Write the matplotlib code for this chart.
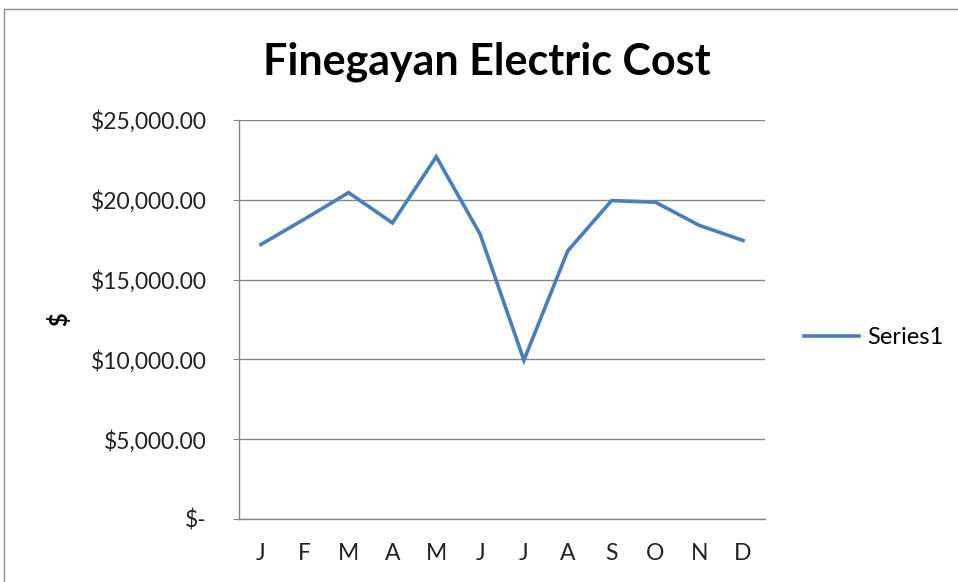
import matplotlib
matplotlib.use("Agg")
from matplotlib import pyplot as plt
from matplotlib.patches import Rectangle

months = ['J', 'F', 'M', 'A', 'M', 'J', 'J', 'A', 'S', 'O', 'N', 'D']
cost = [17200, 18800, 20450, 18550, 22700, 17850, 9950, 16800, 19950, 19850, 18400, 17450]
yticks = [0, 5000, 10000, 15000, 20000, 25000]
ytick_labels = ['$-', '$5,000.00', '$10,000.00', '$15,000.00', '$20,000.00', '$25,000.00']

plt.rcParams['font.family'] = ['Lato', 'DejaVu Sans']

W, H = 958, 582
fig = plt.figure(figsize=(W / 100, H / 100), dpi=100)
fig.patches.append(Rectangle((4 / W, -0.1), 1.1, (H - 9) / H + 0.1, transform=fig.transFigure,
                             fill=False, edgecolor='#8c8c8c', linewidth=1.0))

ax = fig.add_axes([239 / W, (H - 519) / H, (765 - 239) / W, (519 - 120) / H])
x = list(range(len(months)))
ax.plot(x, cost, color='#4A7EBB', linewidth=2.6, solid_joinstyle='miter', label='Series1')

ax.set_xlim(-0.5, len(months) - 0.5)
ax.set_ylim(0, 25000)
ax.set_yticks(yticks)
ax.set_yticklabels(ytick_labels, fontsize=16.5, color='#222222')
ax.set_xticks(x)
ax.set_xticklabels(months, fontsize=16.5, color='#222222')
ax.tick_params(axis='x', length=0, pad=17)
ax.tick_params(axis='y', length=4.3, direction='out', color='#868686', pad=19)
ax.grid(axis='y', color='#868686', linewidth=1.0)
ax.set_axisbelow(True)
for s in ['top', 'right']:
    ax.spines[s].set_visible(False)
for s in ['left', 'bottom']:
    ax.spines[s].set_color('#868686')
    ax.spines[s].set_linewidth(1.0)

ax.set_ylabel('$', fontsize=17, fontweight='bold', labelpad=14)

fig.text(487 / W, 1 - 62 / H, 'Finegayan Electric Cost', fontsize=31, fontweight='bold',
         ha='center', va='center', color='black')

leg = ax.legend(loc='center left', bbox_to_anchor=(783 / W, 1 - 338 / H), bbox_transform=fig.transFigure,
                frameon=False, fontsize=17, handlelength=2.33, handletextpad=0.35)

fig.savefig('out.png', dpi=100)
